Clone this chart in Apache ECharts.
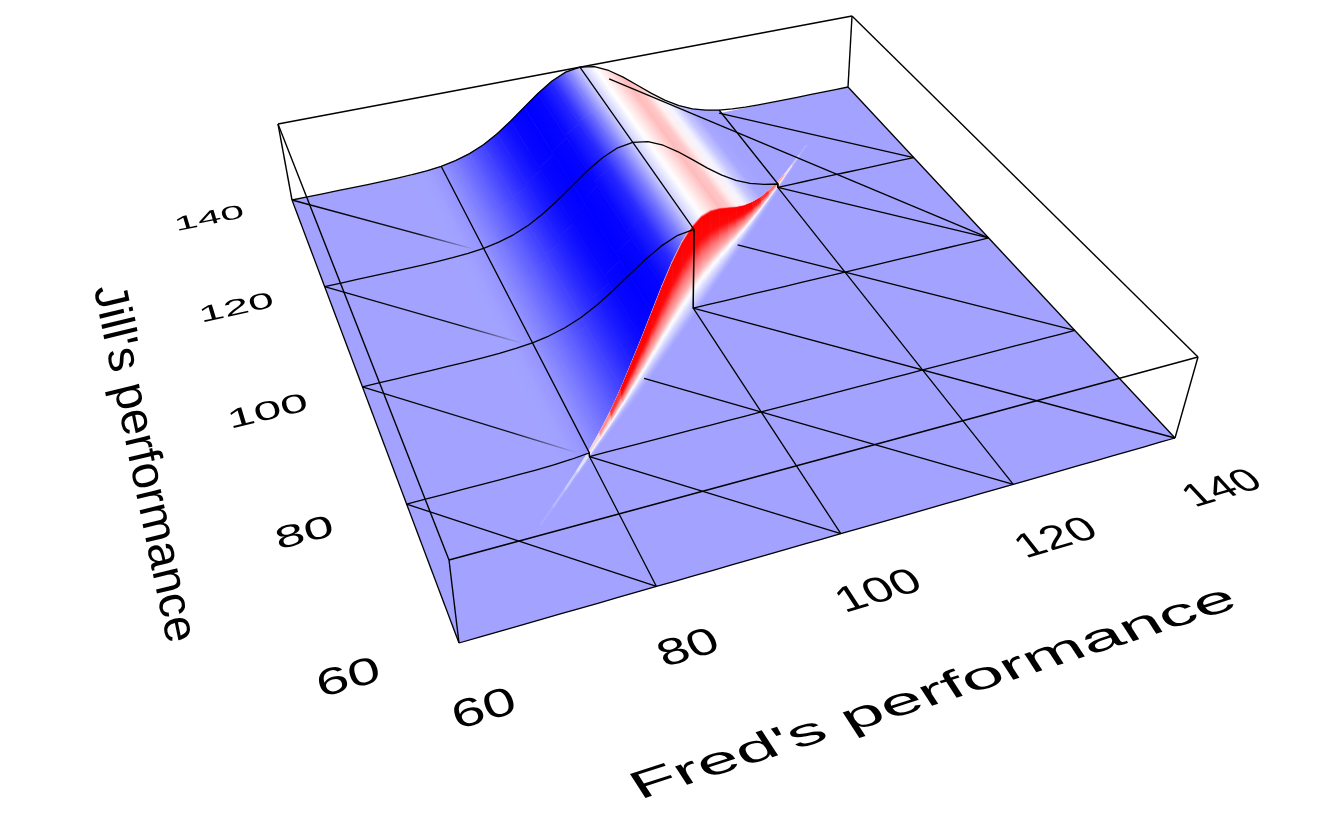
<!DOCTYPE html>
<html><head><meta charset="utf-8">
<script src="https://cdn.jsdelivr.net/npm/echarts@6/dist/echarts.min.js"></script>
<style>html,body{margin:0;background:#fff}#c{width:1322px;height:825px}</style></head>
<body><div id="c"></div>
<script>
// ---------- data ----------
const fredGrid = [60,62,64,66,68,70,72,74,76,78,80,82,84,86,88,90,92,94,96,98,100,102,104,106,108,110,112,114,116,118,120,122,124,126,128,130,132,134,136,138,140];
const ridgeHeight = [0,0,0,0,0,0.001,0.002,0.005,0.011,0.023,0.044,0.08,0.135,0.216,0.325,0.458,0.607,0.755,0.882,0.97,1,0.97,0.882,0.755,0.607,0.458,0.325,0.216,0.135,0.08,0.044,0.023,0.011,0.005,0.002,0.001,0,0,0,0,0];
const ridgeColor = ['#a3a3ff','#a3a3ff','#a3a3ff','#a3a3ff','#a3a3ff','#a3a3ff','#a3a3ff','#a3a3ff','#a3a3ff','#a0a0ff','#9494ff','#7c7cff','#6060ff','#4040ff','#2020ff','#0808ff','#0000ff','#0505ff','#2828ff','#7878ff','#cdcdff','#ffffff','#ffdcdc','#ffbcbc','#ffc8c8','#fff0f0','#f4f4ff','#c8c8ff','#a8a8ff','#a3a3ff','#a3a3ff','#a3a3ff','#a3a3ff','#a3a3ff','#a3a3ff','#a3a3ff','#a3a3ff','#a3a3ff','#a3a3ff','#a3a3ff','#a3a3ff'];
const wallVivid = [0,0,0,0,0,0,0,0,0,0,0.15,0.45,0.8,1,1,1,1,1,1,1,1,1,1,1,1,1,1,0.95,0.8,0.6,0.35,0.1,0,0,0,0,0,0,0,0,0];
const wallGlow = [0,0,0,0,0,0,0.1,0.25,0.45,0.7,0.9,1,1,1,1,1,1,1,1,1,1,1,1,1,1,1,1,1,1,1,1,0.8,0.45,0.15,0,0,0,0,0,0,0];
const wallWidth = [0.3,0.3,0.3,0.3,0.3,0.3,0.3,0.3,0.3,0.3,0.35,0.45,0.6,0.8,1,1,1,1,1,1,1,1,1,1,1,1,1,1,0.85,0.7,0.5,0.35,0.3,0.3,0.3,0.3,0.3,0.3,0.3,0.3,0.3];
const wallShift = [0.7,0.68,0.5,0.35,0.2,0.1,0,-0.15,-0.35,-0.9];
const wallLift = [1,0.97,0.7,0.5,0.35,0.22,0.1,0.03,0,0];
const wallHue = ['#ffc0c0','#ff0000','#ff0808','#ff7070','#ffb0b0','#ffffff','#d8d8ff','#c0c0ff','#b0b0ff','#a3a3ff'];
const floorColor = '#a3a3ff';
const meshValues = [60,80,100,120,140];
const tickLabelsFred = ['60','80','100','120','140'];
const tickLabelsJill = ['60','80','100','120','140'];
const floorDiagonals = [[60,140,79,121,1],[60,120,79,101,1],[60,100,79,81,1],[60,80,80,60,0],[80,80,100,60,0],[90,90,120,60,0],[100,100,140,60,0],[110,110,140,80,0],[120,120,140,100,0],[120,140,140,120,0]];
const chordLine = [[103,137,0.93],[140,100,0]];
const fredTitle = "Fred's performance";
const jillTitle = "Jill's performance";

// ---------- projection of the box ----------
const W = 1322, H = 825;
function homography(p00,p10,p11,p01){
  const dx1=p10[0]-p11[0],dx2=p01[0]-p11[0],sx=p00[0]-p10[0]+p11[0]-p01[0];
  const dy1=p10[1]-p11[1],dy2=p01[1]-p11[1],sy=p00[1]-p10[1]+p11[1]-p01[1];
  const den=dx1*dy2-dx2*dy1, g=(sx*dy2-dx2*sy)/den, h=(dx1*sy-sx*dy1)/den;
  const a=p10[0]-p00[0]+g*p10[0], b=p01[0]-p00[0]+h*p01[0], c=p00[0];
  const d=p10[1]-p00[1]+g*p10[1], e=p01[1]-p00[1]+h*p01[1], f=p00[1];
  return (u,v)=>{const w=g*u+h*v+1;return [(a*u+b*v+c)/w,(d*u+e*v+f)/w];};
}
const floorPlane = homography([459,643],[1175,438],[848,87],[292,200]);
const topPlane = homography([449,560],[1198,357],[852,16],[278,124]);
function project(api,f,j,z){
  const p=api.coord([f,j]), u=p[0]/W, v=1-p[1]/H;
  const a=floorPlane(u,v), b=topPlane(u,v);
  return [a[0]+(b[0]-a[0])*z, a[1]+(b[1]-a[1])*z];
}
const rgb = s=>[parseInt(s.slice(1,3),16),parseInt(s.slice(3,5),16),parseInt(s.slice(5,7),16)];
const mix = (a,b,t)=>[a[0]+(b[0]-a[0])*t,a[1]+(b[1]-a[1])*t,a[2]+(b[2]-a[2])*t];
const css = c=>`rgb(${Math.round(c[0])},${Math.round(c[1])},${Math.round(c[2])})`;
function gradient(p0,p1,dir,c0,c1){
  const dl=Math.hypot(dir[0],dir[1])||1, nx=-dir[1]/dl, ny=dir[0]/dl;
  const k=(p1[0]-p0[0])*nx+(p1[1]-p0[1])*ny;
  return new echarts.graphic.LinearGradient(p0[0],p0[1],p0[0]+nx*k,p0[1]+ny*k,[{offset:0,color:c0},{offset:1,color:c1}],true);
}
function wallColor(k,i){
  let c=rgb(wallHue[k]);
  if(c[2]<255) c=mix([255,255,255],c,wallVivid[i]);
  return css(mix(rgb(floorColor),c,wallGlow[i]));
}

// ---------- pieces ----------
const floorData=[[60,60]];
const stripData=[];
const wallData=[];
const stripStart=i=>wallShift[0]*wallWidth[i];
fredGrid.forEach((f,i)=>{
  if(i<fredGrid.length-1 && f>=76 && f<120){
    const lo=f+stripStart(i), stops=[lo,lo+(140-lo)*0.25,lo+(140-lo)*0.5,lo+(140-lo)*0.75,140];
    for(let s=stops.length-2;s>=0;s--) stripData.push([f,stops[s],i,stops[s+1]]);
  }
  if(i<fredGrid.length-1 && f>=64 && f<132){
    for(let k=0;k<wallShift.length-1;k++) wallData.push([f,f,i,k]);
  }
});
const meshPaths=[];
function ridgeAt(f){const i=fredGrid.indexOf(f);return i<0?0:ridgeHeight[i];}
meshValues.forEach(j=>{
  const pts=[];
  fredGrid.forEach(f=>{
    if(f<j) pts.push([f,j,ridgeAt(f)]);
    else if(f===j){pts.push([f,j,ridgeAt(f)]);pts.push([f,j,0]);}
    else pts.push([f,j,0]);
  });
  meshPaths.push({pts,w:1.3});
});
meshValues.forEach(f=>{
  const z=ridgeAt(f);
  const pts=f===140?[[140,60,0],[140,140,0]]:[[f,60,0],[f,f,0],[f,Math.min(f,140),z],[f,140,z]];
  meshPaths.push({pts,w:1.3});
});
floorDiagonals.forEach(d=>meshPaths.push({pts:[[d[0],d[1],0],[d[2],d[3],0]],w:1.3,fade:d[4]}));
meshPaths.push({pts:chordLine,w:1.3});
const boxEdges=[[[60,60,1],[140,60,1]],[[140,60,1],[140,140,1]],[[140,140,1],[60,140,1]],[[60,140,1],[60,60,1]],
 [[60,60,0],[60,60,1]],[[140,60,0],[140,60,1]],[[140,140,0],[140,140,1]],[[60,140,0],[60,140,1]]];
boxEdges.forEach(e=>meshPaths.push({pts:e,w:1.4}));

const labelData=[];
tickLabelsFred.forEach((t,i)=>labelData.push({t,f:meshValues[i],j:51.5,kx:0.22,ky:0.19,size:24,flip:0}));
tickLabelsJill.forEach((t,i)=>labelData.push({t,f:49.3,j:meshValues[i]-0.5,kx:0.22,ky:0.19,size:24,flip:0}));
labelData.push({t:fredTitle,f:99,j:38.5,kx:0.3,ky:0.18,size:24,flip:0});
labelData.push({t:jillTitle,f:35.4,j:96,kx:0.32,ky:0.2,size:24,flip:1});

function renderFloor(p,api){
  const pts=[[60,60],[140,60],[140,140],[60,140]].map(q=>project(api,q[0],q[1],0));
  return {type:'polygon',shape:{points:pts},style:{fill:floorColor}};
}
function renderStrip(p,api){
  const f=api.value(0), j0=api.value(1), i=api.value(2), j1=api.value(3);
  const f2=fredGrid[i+1], z1=ridgeHeight[i], z2=ridgeHeight[i+1];
  const a=project(api,f,j0,z1), b=project(api,f,j1,z1);
  const lo=f+stripStart(i);
  const j0b=j0<=lo+1e-6?f2+stripStart(i+1):Math.max(j0,f2+stripStart(i+1));
  const c=project(api,f2,j1,z2), d=project(api,f2,j0b,z2);
  const pts=[a,b,c,d];
  const m1=[(a[0]+b[0])/2,(a[1]+b[1])/2], m2=[(c[0]+d[0])/2,(c[1]+d[1])/2];
  const g=gradient(m1,m2,[b[0]-a[0],b[1]-a[1]],ridgeColor[i],ridgeColor[i+1]);
  return {type:'polygon',shape:{points:pts},style:{fill:g,stroke:g,lineWidth:0.7}};
}
function renderWall(p,api){
  const f=api.value(0), i=api.value(2), k=api.value(3);
  const f2=fredGrid[i+1];
  const pt=(ff,ii,kk)=>project(api,ff,ff+wallShift[kk]*wallWidth[ii],ridgeHeight[ii]*wallLift[kk]);
  const a=pt(f,i,k), b=pt(f2,i+1,k), c=pt(f2,i+1,k+1), d=pt(f,i,k+1);
  const m1=[(a[0]+b[0])/2,(a[1]+b[1])/2], m2=[(c[0]+d[0])/2,(c[1]+d[1])/2];
  const g=gradient(m1,m2,[b[0]-a[0],b[1]-a[1]],wallColor(k,i),wallColor(k+1,i));
  return {type:'polygon',shape:{points:[a,b,c,d]},style:{fill:g,stroke:g,lineWidth:0.6}};
}
function renderLine(p,api){
  const m=meshPaths[api.value(0)];
  const pts=m.pts.map(q=>project(api,q[0],q[1],q[2]));
  let stroke='#000';
  if(m.fade){
    const a=pts[0], b=pts[pts.length-1];
    stroke=new echarts.graphic.LinearGradient(a[0],a[1],b[0],b[1],[{offset:0,color:'rgba(0,0,0,1)'},{offset:0.7,color:'rgba(0,0,0,0.9)'},{offset:1,color:'rgba(0,0,0,0)'}],true);
  }
  return {type:'polyline',shape:{points:pts},style:{stroke,fill:null,lineWidth:m.w,lineJoin:'round'}};
}
function renderLabel(p,api){
  const L=labelData[api.value(0)];
  const c=project(api,L.f,L.j,0), e=1;
  const dF=project(api,L.f+e,L.j,0), dJ=project(api,L.f,L.j+e,0);
  const hf=[dF[0]-c[0],dF[1]-c[1]], hj=[dJ[0]-c[0],dJ[1]-c[1]];
  const ax=L.flip?[-hj[0]*L.kx,-hj[1]*L.kx]:[hf[0]*L.kx,hf[1]*L.kx];
  const ay=L.flip?[-hf[0]*L.ky,-hf[1]*L.ky]:[-hj[0]*L.ky,-hj[1]*L.ky];
  const E=(ax[0]+ay[1])/2, Fq=(ax[0]-ay[1])/2, G=(ax[1]+ay[0])/2, Hq=(ax[1]-ay[0])/2;
  const Q=Math.hypot(E,Hq), R=Math.hypot(Fq,G), a1=Math.atan2(G,Fq), a2=Math.atan2(Hq,E);
  const theta=(a2-a1)/2, phi=(a2+a1)/2;
  return {type:'group',x:c[0],y:c[1],rotation:-phi,children:[
    {type:'group',scaleX:Q+R,scaleY:Q-R,children:[
      {type:'text',rotation:-theta,style:{text:L.t,x:0,y:0,fill:'#000',font:L.size+'px "Liberation Sans"',
        align:'center',verticalAlign:'middle',textAlign:'center',textVerticalAlign:'middle'}}]}]};
}
const idx=a=>a.map((_,i)=>[i,0]);
const base={type:'custom',coordinateSystem:'cartesian2d',clip:false,silent:true,animation:false,encode:{x:0,y:1}};
const chart=echarts.init(document.getElementById('c'),null,{renderer:'canvas',width:W,height:H});
chart.setOption({
  animation:false,backgroundColor:'#fff',
  grid:{left:0,right:0,top:0,bottom:0},
  xAxis:{type:'value',min:60,max:140,show:false},
  yAxis:{type:'value',min:60,max:140,show:false},
  tooltip:{show:false},
  series:[
    Object.assign({},base,{name:'floor',z:1,data:floorData,renderItem:renderFloor}),
    Object.assign({},base,{name:'surface',z:2,data:stripData,encode:{x:0,y:1},renderItem:renderStrip}),
    Object.assign({},base,{name:'cliff',z:3,data:wallData,encode:{x:0,y:1},renderItem:renderWall}),
    Object.assign({},base,{name:'mesh',z:4,data:idx(meshPaths),encode:{},renderItem:renderLine}),
    Object.assign({},base,{name:'labels',z:5,data:idx(labelData),encode:{},renderItem:renderLabel})
  ]
});
</script></body></html>
